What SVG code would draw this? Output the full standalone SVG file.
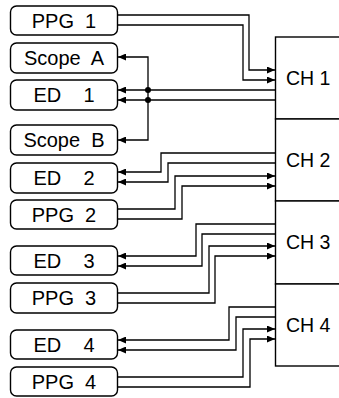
<svg xmlns="http://www.w3.org/2000/svg" width="339" height="398" viewBox="0 0 339 398">
<style>
.n rect{fill:#fff;stroke:#000;stroke-width:1.4}
.n text{font-family:"Liberation Sans",Arial,sans-serif;font-size:20px;fill:#000;text-anchor:middle;white-space:pre}
.ch text{text-anchor:start;font-size:19.5px}
.c path{fill:none;stroke:#000;stroke-width:1.3}
.c circle{fill:#000}
</style>
<defs>
<marker id="ah" markerUnits="userSpaceOnUse" markerWidth="8" markerHeight="7" refX="8" refY="3.5" orient="auto-start-reverse"><path d="M0,0 L8,3.5 L0,7 z" fill="#000"/></marker>
</defs>
<g class="c" id="connectors">
<path d="M117.5,15 H249 V70 H275" marker-end="url(#ah)"/>
<path d="M117.5,25 H243 V80 H275" marker-end="url(#ah)"/>
<path d="M275,90 H118" marker-end="url(#ah)"/>
<path d="M275,100 H118" marker-end="url(#ah)"/>
<path d="M118,57 H148 V140 H118" marker-start="url(#ah)" marker-end="url(#ah)"/>
<circle cx="148" cy="90" r="3"/>
<circle cx="148" cy="100" r="3"/>
<path d="M275,153 H161 V172 H118" marker-end="url(#ah)"/>
<path d="M275,163 H168 V182 H118" marker-end="url(#ah)"/>
<path d="M117.5,209 H175 V176 H275" marker-end="url(#ah)"/>
<path d="M117.5,219 H182 V186 H275" marker-end="url(#ah)"/>
<path d="M275,224 H196 V256 H118" marker-end="url(#ah)"/>
<path d="M275,234 H202 V266 H118" marker-end="url(#ah)"/>
<path d="M117.5,293 H209 V246 H275" marker-end="url(#ah)"/>
<path d="M117.5,303 H215 V256 H275" marker-end="url(#ah)"/>
<path d="M275,307 H229 V340 H118" marker-end="url(#ah)"/>
<path d="M275,317 H236 V350 H118" marker-end="url(#ah)"/>
<path d="M117.5,377 H243 V329 H275" marker-end="url(#ah)"/>
<path d="M117.5,387 H250 V339 H275" marker-end="url(#ah)"/>
</g>
<g class="n" id="ppg1"><rect x="10.5" y="6" width="107" height="29" rx="6"/><text x="64" y="27.7">PPG  1</text></g>
<g class="n" id="scopeA"><rect x="10.5" y="43" width="107" height="30" rx="6"/><text x="64" y="65">Scope  A</text></g>
<g class="n" id="ed1"><rect x="10.5" y="80" width="107" height="30" rx="6"/><text x="64" y="102">ED    1</text></g>
<g class="n" id="scopeB"><rect x="10.5" y="125" width="107" height="30" rx="6"/><text x="64" y="147">Scope  B</text></g>
<g class="n" id="ed2"><rect x="10.5" y="163" width="107" height="30" rx="6"/><text x="64" y="185">ED    2</text></g>
<g class="n" id="ppg2"><rect x="10.5" y="200" width="107" height="29" rx="6"/><text x="64" y="221.5">PPG  2</text></g>
<g class="n" id="ed3"><rect x="10.5" y="246" width="107" height="29" rx="6"/><text x="64" y="267.5">ED    3</text></g>
<g class="n" id="ppg3"><rect x="10.5" y="283" width="107" height="30" rx="6"/><text x="64" y="305">PPG  3</text></g>
<g class="n" id="ed4"><rect x="10.5" y="330" width="107" height="29" rx="6"/><text x="64" y="351.5">ED    4</text></g>
<g class="n" id="ppg4"><rect x="10.5" y="367" width="107" height="29" rx="6"/><text x="64" y="388.5">PPG  4</text></g>
<g class="n ch" id="ch1"><rect x="275.5" y="37" width="70" height="82"/><text x="286" y="85">CH 1</text></g>
<g class="n ch" id="ch2"><rect x="275.5" y="119" width="70" height="82"/><text x="286" y="167">CH 2</text></g>
<g class="n ch" id="ch3"><rect x="275.5" y="201" width="70" height="83"/><text x="286" y="249">CH 3</text></g>
<g class="n ch" id="ch4"><rect x="275.5" y="284" width="70" height="82"/><text x="286" y="332">CH 4</text></g>
</svg>
